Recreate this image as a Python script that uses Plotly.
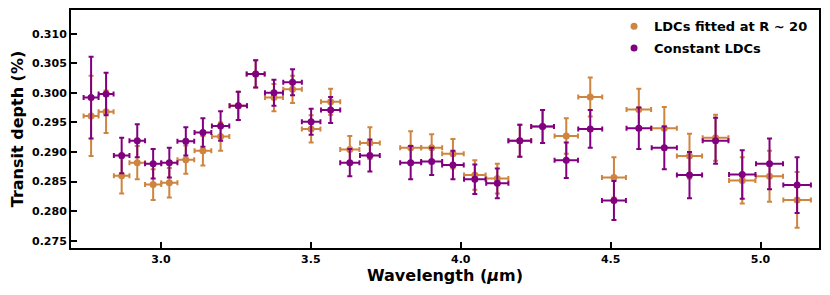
import plotly.graph_objects as go

wavelength = [2.767, 2.817, 2.869, 2.921, 2.974, 3.028, 3.083, 3.140, 3.199, 3.258,
              3.316, 3.377, 3.439, 3.501, 3.566, 3.630, 3.697, 3.833, 3.903, 3.974,
              4.047, 4.122, 4.197, 4.273, 4.352, 4.432, 4.511, 4.594, 4.679, 4.763,
              4.850, 4.939, 5.030, 5.122]
bin_halfwidth = [0.025, 0.025, 0.026, 0.026, 0.027, 0.027, 0.028, 0.028, 0.029, 0.029,
                 0.030, 0.030, 0.031, 0.031, 0.032, 0.032, 0.033, 0.035, 0.035, 0.036,
                 0.036, 0.037, 0.038, 0.038, 0.039, 0.040, 0.040, 0.041, 0.042, 0.042,
                 0.043, 0.044, 0.045, 0.046]

depth_fitted = [0.2961, 0.2968, 0.2860, 0.2882, 0.2845, 0.2848, 0.2887, 0.2902, 0.2926, 0.2978,
                0.3032, 0.2992, 0.3006, 0.2939, 0.2985, 0.2904, 0.2915, 0.2907, 0.2907, 0.2897,
                0.2861, 0.2855, 0.2919, 0.2943, 0.2927, 0.2993, 0.2857, 0.2972, 0.2940, 0.2893,
                0.2924, 0.2852, 0.2859, 0.2819]
err_fitted = [0.0068, 0.0036, 0.0030, 0.0028, 0.0026, 0.0025, 0.0024, 0.0025, 0.0024, 0.0024,
              0.0023, 0.0023, 0.0023, 0.0023, 0.0022, 0.0023, 0.0027, 0.0028, 0.0023, 0.0025,
              0.0025, 0.0025, 0.0027, 0.0028, 0.0030, 0.0033, 0.0034, 0.0035, 0.0036, 0.0038,
              0.0039, 0.0039, 0.0043, 0.0047]

depth_const = [0.2992, 0.2998, 0.2894, 0.2919, 0.2880, 0.2882, 0.2918, 0.2933, 0.2944, 0.2978,
               0.3032, 0.3000, 0.3018, 0.2951, 0.2971, 0.2882, 0.2894, 0.2882, 0.2884, 0.2878,
               0.2854, 0.2847, 0.2919, 0.2943, 0.2886, 0.2939, 0.2818, 0.2940, 0.2907, 0.2861,
               0.2919, 0.2862, 0.2880, 0.2844]
err_const = [0.0069, 0.0036, 0.0030, 0.0028, 0.0025, 0.0025, 0.0024, 0.0024, 0.0025, 0.0024,
             0.0023, 0.0022, 0.0022, 0.0022, 0.0022, 0.0023, 0.0027, 0.0028, 0.0023, 0.0024,
             0.0025, 0.0025, 0.0027, 0.0028, 0.0030, 0.0032, 0.0033, 0.0035, 0.0036, 0.0039,
             0.0039, 0.0041, 0.0043, 0.0047]

y_ticks = [0.275, 0.280, 0.285, 0.290, 0.295, 0.300, 0.305, 0.310]
x_ticks = [3.0, 3.5, 4.0, 4.5, 5.0]

ORANGE = "#CD853F"
PURPLE = "#800080"
FONT = "DejaVu Sans"

fig = go.Figure()
for i, (name, y, ey, col) in enumerate([("LDCs fitted at R ~ 20", depth_fitted, err_fitted, ORANGE),
                                        ("Constant LDCs", depth_const, err_const, PURPLE)]):
    fig.add_trace(go.Scatter(
        x=wavelength, y=y, mode="markers", name=name, legendgroup=f"g{i}",
        marker=dict(color=col, size=7),
        error_y=dict(type="data", array=ey, color=col, thickness=2, width=2.5),
        error_x=dict(type="data", array=bin_halfwidth, color=col, thickness=2, width=2.5),
    ))

axis_common = dict(
    showline=True, linecolor="black", linewidth=2, mirror=True,
    ticks="inside", ticklen=6, tickwidth=2, tickcolor="black",
    showgrid=False, zeroline=False, automargin=False,
    tickfont=dict(family=FONT, size=11, color="black", weight="bold"),
)

# page body has an 8px default margin; compensate so the plot area lands at x 71-819, y 10-248
fig.update_layout(
    width=814, height=287,
    margin=dict(l=63, r=3, t=2, b=47),
    plot_bgcolor="white", paper_bgcolor="white",
    showlegend=True,
    legend=dict(x=0.726, y=0.995, xanchor="left", yanchor="top",
                bgcolor="rgba(0,0,0,0)", borderwidth=0,
                font=dict(family=FONT, size=13, color="black", weight="bold"),
                itemwidth=30, tracegroupgap=2),
    xaxis=dict(range=[2.70, 5.195], tickvals=x_ticks,
               ticktext=[f"{v:.1f}" for v in x_ticks],
               title=dict(text="Wavelength (<i>µ</i>m)", standoff=3,
                          font=dict(family=FONT, size=16, color="black", weight="bold")),
               **axis_common),
    yaxis=dict(range=[0.27377, 0.3140], tickvals=y_ticks,
               ticktext=[f"{v:.3f}" for v in y_ticks],
               title=dict(text="Transit depth (%)", standoff=4,
                          font=dict(family=FONT, size=16, color="black", weight="bold")),
               **axis_common),
)

fig.write_html("out.html")
